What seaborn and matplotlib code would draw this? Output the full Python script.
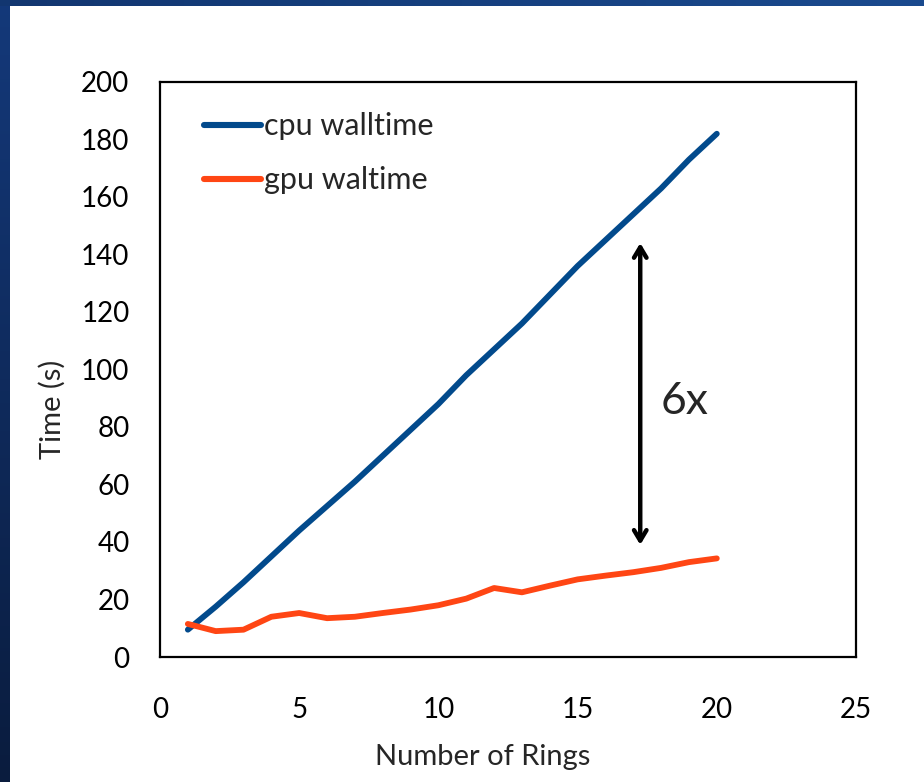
import numpy as np
import pandas as pd
import matplotlib
matplotlib.use("Agg")
import matplotlib.pyplot as plt
import seaborn as sns

# Wall-clock time per run as the number of rings grows
rings = list(range(1, 21))
cpu_walltime = [9.5, 17.5, 26, 35, 44, 52.5, 61, 70, 79, 88,
                98, 107, 116, 126, 136, 145, 154, 163, 173, 182]
gpu_walltime = [11.5, 9, 9.5, 14, 15.3, 13.5, 14, 15.3, 16.5, 18,
                20.3, 24, 22.5, 24.8, 27, 28.3, 29.5, 31, 33, 34.3]
series_names = ["cpu walltime", "gpu waltime"]
speedup_label = "6x"
x_ticks = [0, 5, 10, 15, 20, 25]
y_ticks = list(range(0, 201, 20))

df = pd.DataFrame({
    "rings": rings * 2,
    "time": cpu_walltime + gpu_walltime,
    "series": [series_names[0]] * len(rings) + [series_names[1]] * len(rings),
})

sns.set_style("white")
plt.rcParams["font.family"] = ["Lato", "DejaVu Sans"]

fig = plt.figure(figsize=(9.24, 7.82), dpi=100)
fig.patch.set_facecolor("white")

# Slide frame: dark blue bands along the top and left edges
grad_left = np.linspace(0, 1, 256).reshape(-1, 1)
ax_left = fig.add_axes([0, 0, 10 / 924, 1])
ax_left.imshow(grad_left, aspect="auto", extent=[0, 1, 0, 1],
               cmap=matplotlib.colors.LinearSegmentedColormap.from_list(
                   "frame_l", ["#0a1c3e", "#14397a"]), origin="lower")
ax_left.axis("off")
grad_top = np.linspace(0, 1, 256).reshape(1, -1)
ax_top = fig.add_axes([0, 1 - 6 / 782, 1, 6 / 782])
ax_top.imshow(grad_top, aspect="auto", extent=[0, 1, 0, 1],
              cmap=matplotlib.colors.LinearSegmentedColormap.from_list(
                  "frame_t", ["#123670", "#1a4a8e"]))
ax_top.axis("off")

ax = fig.add_axes([160 / 924, 1 - 657 / 782, 696 / 924, 575 / 782])
palette = {series_names[0]: "#024a8c", series_names[1]: "#ff4614"}
sns.lineplot(data=df, x="rings", y="time", hue="series", palette=palette,
             linewidth=4.2, ax=ax, legend=True)
for line in ax.get_lines():
    line.set_solid_capstyle("round")

ax.set_xlim(0, 25)
ax.set_ylim(0, 200)
ax.set_xticks(x_ticks)
ax.set_yticks(y_ticks)
ax.tick_params(axis="both", direction="in", length=8, width=1.5,
               labelsize=20, colors="black")
ax.tick_params(axis="x", pad=29)
ax.tick_params(axis="y", pad=22)
for s in ax.spines.values():
    s.set_visible(True)
    s.set_color("black")
    s.set_linewidth(1.6)

ax.set_xlabel("Number of Rings", fontsize=21)
ax.set_ylabel("Time (s)", fontsize=21)
ax.xaxis.set_label_coords(0.463, -0.152)
ax.yaxis.set_label_coords(-0.135, 0.43)

leg = ax.legend(loc="upper left", bbox_to_anchor=(0.024, 0.995), frameon=False,
                fontsize=22, handlelength=1.85, handletextpad=0.1,
                labelspacing=0.85)
for h in leg.get_lines():
    h.set_linewidth(4.4)
    h.set_solid_capstyle("round")

# Double-headed arrow marking the gap between the two curves
ax.annotate("", xy=(17.25, 144), xytext=(17.25, 39),
            arrowprops=dict(arrowstyle="<->,head_length=0.75,head_width=0.45",
                            color="black", lw=3.2, shrinkA=0, shrinkB=0))
ax.text(18.0, 89, speedup_label, fontsize=32, va="center", ha="left")

fig.savefig("out.png", dpi=100, facecolor=fig.get_facecolor())
